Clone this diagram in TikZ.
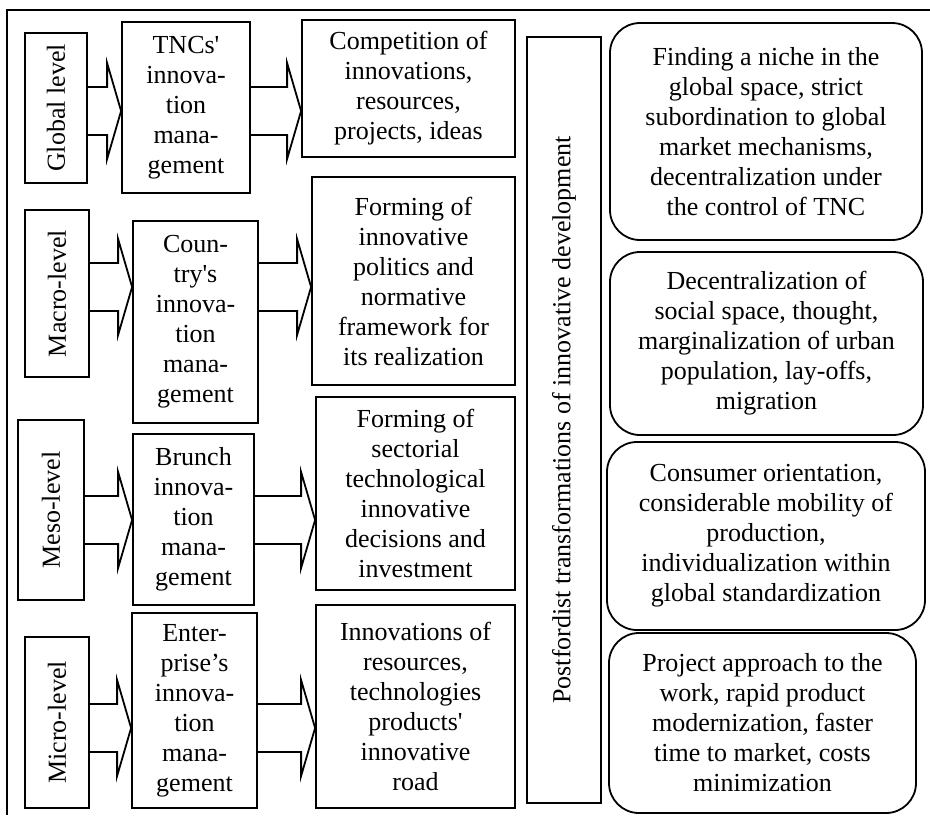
\documentclass[tikz,border=0pt]{standalone}
\usepackage{fontspec}
\setmainfont{Liberation Serif}
\usetikzlibrary{calc}

% hollow block arrow: #1 from node, #2 to node, #3 row coordinate
\newcommand{\blockarrow}[3]{%
  \draw[barrow] ($(#1.east |- #3)+(0,-24)$) -- ($(#2.west |- #3)+(-14,-24)$) -- ++(0,-24)
    -- (#2.west |- #3) -- ++(-14,48) -- ++(0,-24) -- ($(#1.east |- #3)+(0,24)$);}
\newcommand{\vtext}[1]{\rotatebox{90}{#1}}

\begin{document}
\begin{tikzpicture}[
    x=1pt, y=-1pt,
    box/.style={rectangle, draw, line width=1.8pt, inner sep=0pt, align=center, font=\fontsize{26}{30}\selectfont},
    rbox/.style={box, rounded corners=30pt},
    barrow/.style={line width=1.8pt, line join=miter}
]
    \useasboundingbox (0,0) rectangle (930,815);

    % frame
    \draw[line width=1.8pt] (930,10) -- (7,10) -- (7,815);

    \coordinate (r1) at (0,111);
    \coordinate (r2) at (0,287);
    \coordinate (r3) at (0,520);
    \coordinate (r4) at (0,728);

    % levels
    \node[box, minimum width=62, minimum height=150] (glob) at (56,108) {\vtext{Global level}};
    \node[box, minimum width=64, minimum height=167] (macro) at (57,293.5) {\vtext{Macro-level}};
    \node[box, minimum width=66, minimum height=180] (meso) at (51,510) {\vtext{Meso-level}};
    \node[box, minimum width=64, minimum height=171] (micro) at (57,722.5) {\vtext{Micro-level}};

    % management
    \node[box, minimum width=128, minimum height=171] (tnc) at (186,107.5) {TNCs\textquotesingle\\innova-\\tion\\mana-\\gement};
    \node[box, minimum width=125, minimum height=202] (cntry) at (195.5,322) {Coun-\\try\textquotesingle s\\innova-\\tion\\mana-\\gement};
    \node[box, minimum width=121, minimum height=171] (brunch) at (193.5,519.5) {Brunch\\innova-\\tion\\mana-\\gement};
    \node[box, minimum width=125, minimum height=195] (entpr) at (194.5,710.5) {Enter-\\prise’s\\innova-\\tion\\mana-\\gement};

    % results
    \node[box, minimum width=213, minimum height=137] (comp) at (408.5,88.5) {Competition of\\innovations,\\resources,\\projects, ideas};
    \node[box, minimum width=203, minimum height=208] (polit) at (413.5,281) {Forming of\\innovative\\politics and\\normative\\framework for\\its realization};
    \node[box, minimum width=199, minimum height=193] (sector) at (415.5,493.5) {Forming of\\sectorial\\technological\\innovative\\decisions and\\investment};
    \node[box, minimum width=199, minimum height=203] (road) at (415.5,706.5) {Innovations of\\resources,\\technologies\\products\textquotesingle\\innovative\\road};

    \node[box, minimum width=74, minimum height=766] (post) at (564,420) {\vtext{Postfordist transformations of innovative development}};

    % consequences
    \node[rbox, minimum width=312, minimum height=217] (niche) at (766,131.5) {Finding a niche in the\\global space, strict\\subordination to global\\market mechanisms,\\decentralization under\\the control of TNC};
    \node[rbox, minimum width=313, minimum height=183] (decent) at (766.5,343.5) {Decentralization of\\social space, thought,\\marginalization of urban\\population, lay-offs,\\migration};
    \node[rbox, minimum width=318, minimum height=188] (consum) at (766,536) {Consumer orientation,\\considerable mobility of\\production,\\individualization within\\global standardization};
    \node[rbox, minimum width=307, minimum height=180] (proj) at (762.5,723) {Project approach to the\\work, rapid product\\modernization, faster\\time to market, costs\\minimization};

    \blockarrow{glob}{tnc}{r1}
    \blockarrow{tnc}{comp}{r1}
    \blockarrow{macro}{cntry}{r2}
    \blockarrow{cntry}{polit}{r2}
    \blockarrow{meso}{brunch}{r3}
    \blockarrow{brunch}{sector}{r3}
    \blockarrow{micro}{entpr}{r4}
    \blockarrow{entpr}{road}{r4}
\end{tikzpicture}
\end{document}
